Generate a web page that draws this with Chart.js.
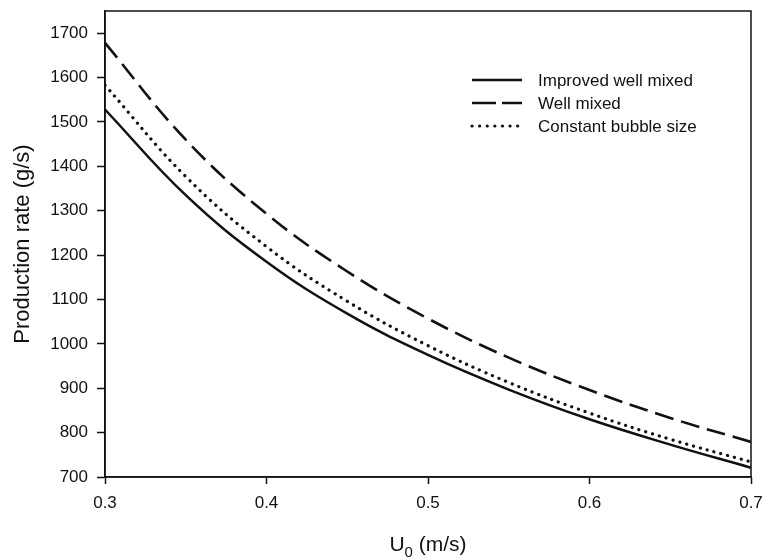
<!DOCTYPE html>
<html>
<head>
<meta charset="utf-8">
<script src="https://cdn.jsdelivr.net/npm/chart.js@4/dist/chart.umd.min.js"></script>
<style>
  html, body { margin: 0; padding: 0; background: #fff; }
  #wrap { width: 765px; height: 559px; }
</style>
</head>
<body>
<div id="wrap"><canvas id="chart" width="765" height="559"></canvas></div>
<script>
// values
const uValues = [0.30, 0.35, 0.40, 0.45, 0.50, 0.55, 0.60, 0.65, 0.70];
const improvedWellMixed = [1528, 1335, 1185, 1068, 975, 897, 830, 773, 721];
const wellMixed = [1678, 1460, 1293, 1163, 1057, 969, 896, 833, 779];
const constantBubbleSize = [1583, 1377, 1219, 1096, 996, 913, 844, 785, 734];
const seriesNames = ['Improved well mixed', 'Well mixed', 'Constant bubble size'];
const xTicks = [0.3, 0.4, 0.5, 0.6, 0.7];
const yTicks = [700, 800, 900, 1000, 1100, 1200, 1300, 1400, 1500, 1600, 1700];

const FONT = '"Liberation Sans", Arial, sans-serif';
const INK = '#111';

function toPoints(ys) {
    return ys.map((y, i) => ({ x: uValues[i], y: y }));
}

// frame round the plot, inline legend and the U0 axis title
const extras = {
    id: 'extras',
    afterDraw(chart) {
        const ctx = chart.ctx;
        const a = chart.chartArea;
        ctx.save();
        ctx.strokeStyle = INK;
        ctx.lineWidth = 1.5;
        ctx.setLineDash([]);
        ctx.strokeRect(a.left, a.top, a.right - a.left, a.bottom - a.top);

        // legend
        ctx.font = '17px ' + FONT;
        ctx.textBaseline = 'middle';
        ctx.fillStyle = INK;
        chart.data.datasets.forEach((ds, i) => {
            const y = 80 + i * 23;
            ctx.beginPath();
            ctx.lineWidth = ds.borderWidth;
            ctx.lineCap = ds.borderCapStyle || 'butt';
            ctx.setLineDash(ds.legendDash || []);
            ctx.moveTo(472, y);
            ctx.lineTo(522, y);
            ctx.stroke();
            ctx.setLineDash([]);
            ctx.fillText(ds.label, 538, y + 1);
        });

        // x title with subscript
        const cx = (a.left + a.right) / 2;
        const main = '21px ' + FONT, sub = '15px ' + FONT;
        ctx.textBaseline = 'alphabetic';
        ctx.font = main;
        const wU = ctx.measureText('U').width;
        const wRest = ctx.measureText(' (m/s)').width;
        ctx.font = sub;
        const w0 = ctx.measureText('0').width;
        let x = cx - (wU + w0 + wRest) / 2;
        const base = 551;
        ctx.font = main;
        ctx.fillText('U', x, base);
        x += wU;
        ctx.font = sub;
        ctx.fillText('0', x, base + 6);
        x += w0;
        ctx.font = main;
        ctx.fillText(' (m/s)', x, base);
        ctx.restore();
    }
};

new Chart(document.getElementById('chart'), {
    type: 'line',
    data: {
        datasets: [{
            label: seriesNames[0],
            data: toPoints(improvedWellMixed),
            borderColor: INK,
            borderWidth: 2.5,
            legendDash: []
        }, {
            label: seriesNames[1],
            data: toPoints(wellMixed),
            borderColor: INK,
            borderWidth: 2.6,
            borderDash: [19, 8],
            legendDash: [24, 6]
        }, {
            label: seriesNames[2],
            data: toPoints(constantBubbleSize),
            borderColor: INK,
            borderWidth: 3.2,
            borderCapStyle: 'round',
            borderDash: [0.1, 7],
            legendDash: [0.1, 7.5]
        }]
    },
    options: {
        responsive: false,
        animation: false,
        devicePixelRatio: 1,
        layout: { padding: { left: 0, right: 14, top: 11, bottom: 0 } },
        elements: {
            point: { radius: 0 },
            line: { tension: 0.4, fill: false }
        },
        plugins: {
            legend: { display: false },
            tooltip: { enabled: false }
        },
        scales: {
            x: {
                type: 'linear',
                min: 0.3,
                max: 0.7,
                afterBuildTicks: s => { s.ticks = xTicks.map(v => ({ value: v })); },
                afterFit: s => {
                    s.height = 82;
                    s.paddingLeft = 0;
                    s.paddingRight = 0;
                },
                grid: { drawOnChartArea: false, drawTicks: true, tickLength: 7, tickColor: INK, tickWidth: 1.5 },
                border: { color: INK, width: 1.5 },
                ticks: {
                    padding: 9,
                    color: INK,
                    font: { family: FONT, size: 17 },
                    callback: v => v.toFixed(1),
                    maxRotation: 0
                }
            },
            y: {
                min: 700,
                max: 1750,
                afterBuildTicks: s => { s.ticks = yTicks.map(v => ({ value: v })); },
                afterFit: s => {
                    s.width = 105;
                    s.paddingTop = 0;
                    s.paddingBottom = 0;
                },
                grid: { drawOnChartArea: false, drawTicks: true, tickLength: 8, tickColor: INK, tickWidth: 1.5 },
                border: { color: INK, width: 1.5 },
                ticks: {
                    padding: 9,
                    color: INK,
                    font: { family: FONT, size: 17 },
                    callback: v => String(v)
                },
                title: {
                    display: true,
                    text: 'Production rate (g/s)',
                    color: INK,
                    font: { family: FONT, size: 22 },
                    padding: { top: 10, bottom: 0 }
                }
            }
        }
    },
    plugins: [extras]
});
</script>
</body>
</html>
